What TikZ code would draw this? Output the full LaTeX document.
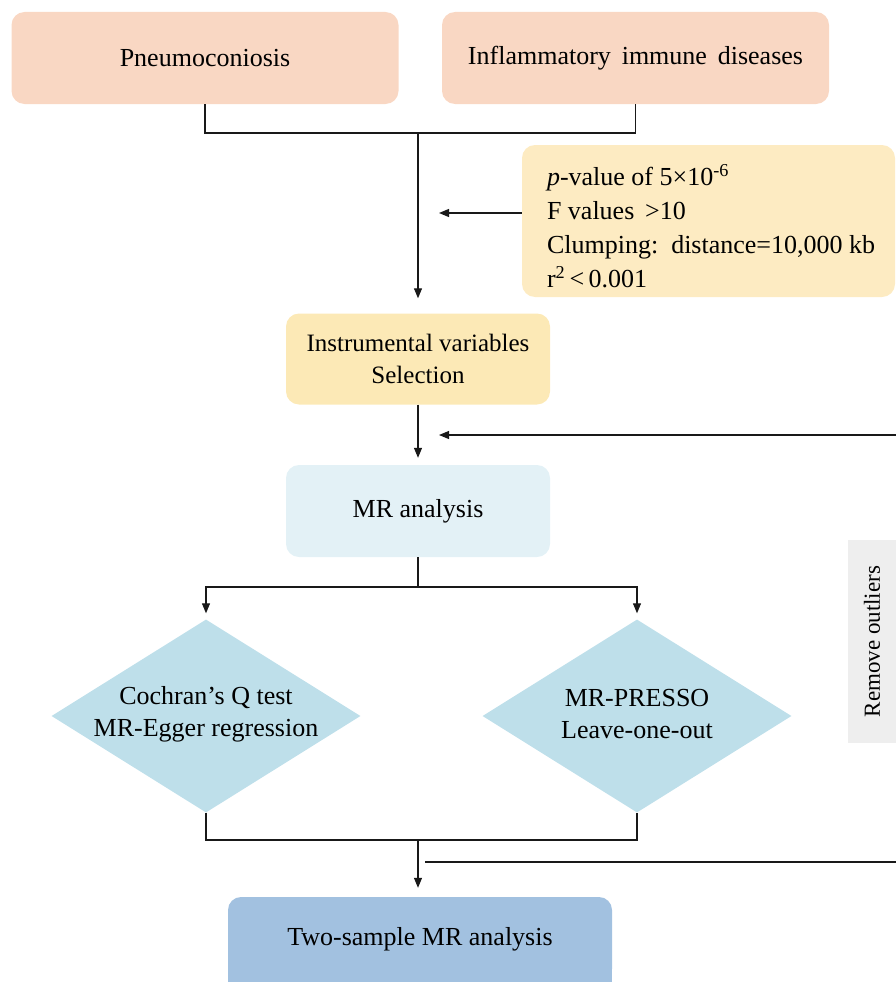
\documentclass[tikz,border=0pt]{standalone}
\usepackage{fontspec}
\setmainfont{Liberation Serif}
\usetikzlibrary{shapes.geometric,arrows.meta}
\definecolor{peach}{HTML}{F9D7C3}
\definecolor{crit}{HTML}{FDEBC2}
\definecolor{ivy}{HTML}{FCE9B6}
\definecolor{mrb}{HTML}{E3F1F6}
\definecolor{dia}{HTML}{BEDFEA}
\definecolor{twob}{HTML}{A2C1E0}
\definecolor{greyb}{HTML}{EEEEEE}
\begin{document}
\begin{tikzpicture}[x=1pt,y=-1pt,
  box/.style={rounded corners=13pt, draw=none, inner sep=0pt, align=center, font=\fontsize{26}{32}\selectfont},
  ln/.style={line width=1.1pt, draw=black!90},
  arr/.style={ln, -{Triangle[length=10pt,width=8pt]}},
  dtext/.style={align=center, inner sep=0pt, font=\fontsize{26}{32}\selectfont},
]
\useasboundingbox (0,0) rectangle (896,982);

% boxes
\node[box, fill=peach, minimum width=387pt, minimum height=92pt] (p) at (205,58) {Pneumoconiosis};
\node[box, fill=peach, minimum width=387pt, minimum height=92pt] (i) at (635.5,58) {Inflammatory \,immune \,diseases};
\node[box, fill=crit, minimum width=373pt, minimum height=152pt,
  label={[anchor=west, xshift=25pt, yshift=-5pt, align=left, inner sep=0pt, font=\fontsize{26}{34}\selectfont]west:{{\itshape p}-value of 5×10\textsuperscript{-6}\\F values \,>10\\Clumping: \,distance=10,000 kb\\r\textsuperscript{2}\,<\,0.001}}] (c) at (708.5,221) {};
\node[box, fill=ivy, minimum width=264pt, minimum height=91pt, font=\fontsize{25}{32}\selectfont] (iv) at (418,359) {Instrumental variables\\Selection};
\node[box, fill=mrb, minimum width=264pt, minimum height=92pt] (mr) at (418,511) {MR analysis};
\node[diamond, fill=dia, minimum width=309pt, minimum height=193pt, inner sep=0pt,
  label={[dtext, yshift=2pt]center:{Cochran’s Q test\\MR-Egger regression}}] (d1) at (206,716) {};
\node[diamond, fill=dia, minimum width=309pt, minimum height=193pt, inner sep=0pt,
  label={[dtext, yshift=2pt]center:{MR-PRESSO\\Leave-one-out}}] (d2) at (637,716) {};
\fill[twob] (228,950) rectangle (612,982);
\node[box, fill=twob, minimum width=384pt, minimum height=85pt] (t) at (420,939.5) {Two-sample MR analysis};
\node[fill=greyb, rotate=90, inner sep=0pt, minimum width=203pt, minimum height=48pt, font=\fontsize{23}{27}\selectfont] (g) at (872,641.5) {Remove outliers};

% connectors
\coordinate (j1) at (418,133);
\draw[ln] (p.south) |- (j1) -| (i.south);
\draw[arr, shorten >=15pt] (j1) -- (iv.north);
\coordinate (a1) at (439,213);
\draw[arr] (c.west |- a1) -- (a1);
\draw[arr, shorten >=7pt] (iv.south) -- (mr.north);
\coordinate (r1) at (896,435);
\coordinate (a2) at (439,435);
\draw[arr] (r1) -- (a2);
\coordinate (j2) at (418,587);
\draw[ln] (mr.south) -- (j2);
\draw[arr, shorten >=6pt] (j2) -| (d1.north);
\draw[arr, shorten >=6pt] (j2) -| (d2.north);
\coordinate (j3) at (418,840);
\draw[ln] (d1.south) |- (j3) -| (d2.south);
\draw[arr, shorten >=9pt] (j3) -- (j3 |- t.north);
\coordinate (h1) at (425,862);
\coordinate (h2) at (896,862);
\draw[ln] (h1) -- (h2);
\end{tikzpicture}
\end{document}
